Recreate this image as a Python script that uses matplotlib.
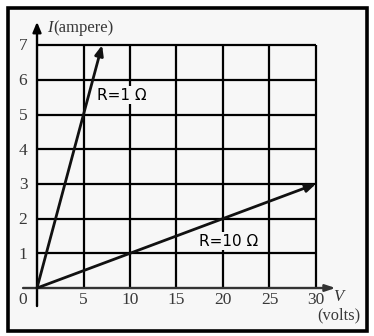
import matplotlib.pyplot as plt
from matplotlib.patches import Rectangle

# data
grid_v = [0, 5, 10, 15, 20, 25, 30]
grid_i = [0, 1, 2, 3, 4, 5, 6, 7]
tick_v = ['5', '10', '15', '20', '25', '30']
tick_i = ['1', '2', '3', '4', '5', '6', '7']

v_r1 = [0, 7]
i_r1 = [0, 7]
v_r10 = [0, 30]
i_r10 = [0, 3]

fig = plt.figure(figsize=(3.74, 3.36), dpi=100)
fig.patch.set_facecolor('white')
ax = fig.add_axes([0, 0, 1, 1])
ax.set_xlim(-3.98, 36.24)
ax.set_ylim(-1.383, 8.30)
ax.axis('off')

# outer frame
ax.add_patch(Rectangle((8 / 374, 5 / 336), 359 / 374, 323 / 336, transform=ax.transAxes,
                       facecolor='#f7f7f7', edgecolor='black', lw=2.6, zorder=0))

# grid
ax.vlines(grid_v[1:], grid_i[0], grid_i[-1], color='black', lw=1.6, zorder=1)
ax.hlines(grid_i[1:], grid_v[0], grid_v[-1], color='black', lw=1.6, zorder=1)

# axes with arrows
ax.annotate('', xy=(0, 7.75), xytext=(0, -0.6),
            arrowprops=dict(arrowstyle='-|>,head_length=0.6,head_width=0.25', color='black', lw=1.7))
ax.annotate('', xy=(32.4, 0), xytext=(-1.8, 0),
            arrowprops=dict(arrowstyle='-|>,head_length=0.6,head_width=0.2', color='#333333', lw=1.7))

# the two resistor lines
ax.annotate('', xy=(v_r1[-1], i_r1[-1]), xytext=(v_r1[0], i_r1[0]),
            arrowprops=dict(arrowstyle='-|>,head_length=0.6,head_width=0.25', color='#111111', lw=2.0,
                            shrinkA=0, shrinkB=0))
ax.annotate('', xy=(v_r10[-1], i_r10[-1]), xytext=(v_r10[0], i_r10[0]),
            arrowprops=dict(arrowstyle='-|>,head_length=0.6,head_width=0.25', color='#111111', lw=2.0,
                            shrinkA=0, shrinkB=0))

box = dict(facecolor='#f7f7f7', edgecolor='none', pad=1.0)
ax.text(6.4, 5.56, 'R=1 Ω', fontsize=11, family='DejaVu Sans', ha='left', va='center', zorder=3, bbox=box)
ax.text(17.4, 1.35, 'R=10 Ω', fontsize=11, family='DejaVu Sans', ha='left', va='center', zorder=3, bbox=box)

# tick labels
serif = 'Liberation Serif'
tc = '#383838'
for v, lab in zip(grid_v[1:], tick_v):
    ax.text(v, -0.35, lab, fontsize=12.5, family=serif, color=tc, ha='center', va='center')
for i, lab in zip(grid_i[1:], tick_i):
    ax.text(-1.5, i - 0.04, lab, fontsize=12.5, family=serif, color=tc, ha='center', va='center')
ax.text(-1.5, -0.35, '0', fontsize=12.5, family=serif, color=tc, ha='center', va='center')

# axis titles
ax.text(1.1, 7.5, 'I', fontsize=12, family=serif, style='italic', color='#333333', ha='left', va='center')
ax.text(1.75, 7.5, '(ampere)', fontsize=12, family=serif, color=tc, ha='left', va='center')
ax.text(32.4, -0.25, 'V', fontsize=12, family=serif, style='italic', color='#333333', ha='center', va='center')
ax.text(32.5, -0.78, '(volts)', fontsize=11.8, family=serif, color=tc, ha='center', va='center')

fig.savefig('out.png', dpi=100)
